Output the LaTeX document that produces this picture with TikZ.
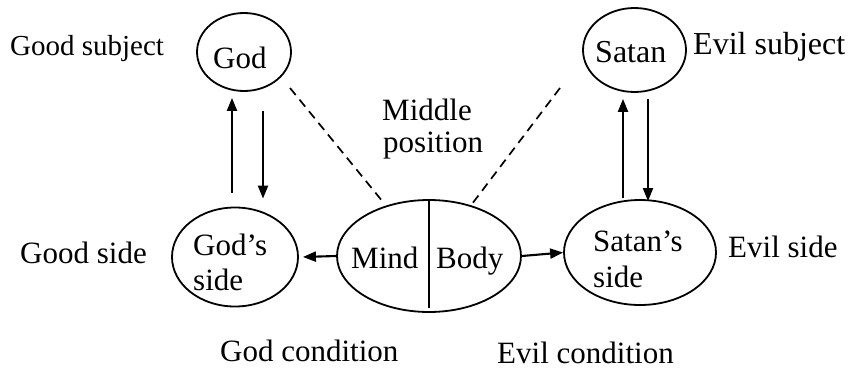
\documentclass[tikz,border=0pt]{standalone}
\usepackage{fontspec}
\setmainfont{Liberation Serif}
\usetikzlibrary{arrows.meta,calc,shapes.geometric}
\begin{document}
\begin{tikzpicture}[x=1pt,y=-1pt,
  oval/.style={draw,ellipse,line width=1.8pt,inner sep=0pt},
  txt/.style={anchor=base west,inner sep=0pt,font=\fontsize{31}{36}\selectfont},
  arr/.style={line width=2.1pt,-{Triangle[length=13pt,width=10pt]}},
  dsh/.style={line width=1.7pt,dash pattern=on 9pt off 6pt}]
\useasboundingbox (0,0) rectangle (853,369);
% ellipses
\node[oval,minimum width=94pt,minimum height=78pt] (god) at (244,52) {};
\node[oval,minimum width=103pt,minimum height=84pt] (satan) at (634.5,50) {};
\node[oval,minimum width=126pt,minimum height=99pt] (godside) at (235,257) {};
\node[oval,minimum width=184pt,minimum height=112pt] (mb) at (429,256) {};
\node[oval,minimum width=152pt,minimum height=105pt] (satanside) at (640,252.5) {};
% texts inside
\node[txt] (godt) at (213,68) {God};
\node[txt,font=\fontsize{32}{36}\selectfont] (satant) at (595,63) {Satan};
\node[txt] (godsidea) at (193,255) {God’s};
\node[txt] (godsideb) at (193,290) {side};
\node[txt] (satansidea) at (593,251) {Satan’s};
\node[txt] (satansideb) at (593,287) {side};
\node[txt] (mindt) at (351,268) {Mind};
\node[txt] (bodyt) at (436,268) {Body};
% outer labels
\node[txt,font=\fontsize{29}{34}\selectfont] (goodsubj) at (10,56) {Good subject};
\node[txt,font=\fontsize{32}{36}\selectfont] (evilsubj) at (693,55) {Evil subject};
\node[txt] (goodside) at (20,263) {Good side};
\node[txt] (evilside) at (728,257) {Evil side};
\node[txt] (godcond) at (220,361) {God condition};
\node[txt] (evilcond) at (497,363) {Evil condition};
\node[txt] (middlea) at (382,120) {Middle};
\node[txt] (middleb) at (383,152) {position};
% divider
\draw[line width=1.8pt] (mb.north) -- ($(mb.south)+(0,-5)$);
% arrows
\draw[arr] ($(godside.north)+(-3,-14)$) -- ($(god.south)+(-12,6)$);
\draw[arr] ($(god.south)+(19,19)$) -- ($(godside.north)+(28,-8)$);
\draw[arr] ($(satanside.north)+(-17,-1)$) -- ($(satan.south)+(-11.5,6)$);
\draw[arr] ($(satan.south)+(13.5,6)$) -- ($(satanside.north)+(8,2)$);
\draw[arr] (mb.west) -- ([xshift=4pt]godside.east);
\draw[arr] (mb.east) -- (satanside.west);
% dashed
\draw[dsh] ($(god.center)+(46,36)$) -- ($(mb.center)+(-46,-54)$);
\draw[dsh] ($(satan.center)+(-74.5,38)$) -- ($(mb.center)+(43,-52)$);
\end{tikzpicture}
\end{document}
